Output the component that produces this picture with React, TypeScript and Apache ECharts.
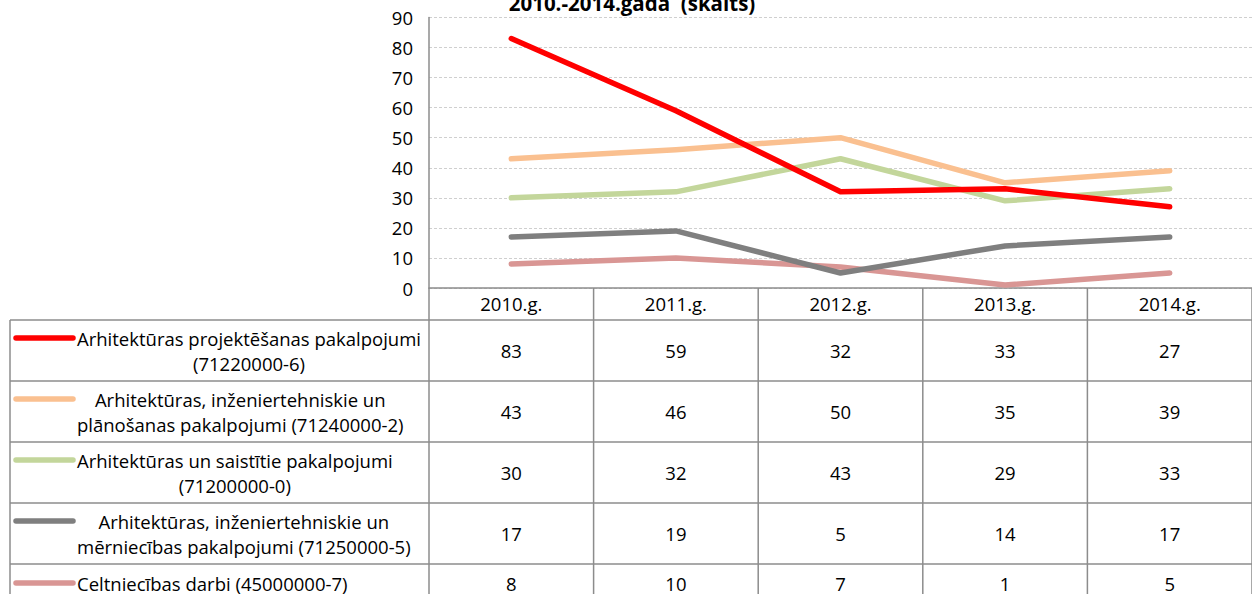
import React, { useEffect, useRef } from 'react';
import * as echarts from 'echarts';

// Categories (years) and series
const years = ['2010.g.', '2011.g.', '2012.g.', '2013.g.', '2014.g.'];
const seriesNames = [
  'Arhitektūras projektēšanas pakalpojumi\n(71220000-6)',
  'Arhitektūras, inženiertehniskie un\nplānošanas pakalpojumi (71240000-2)',
  'Arhitektūras un saistītie pakalpojumi\n(71200000-0)',
  'Arhitektūras, inženiertehniskie un\nmērniecības pakalpojumi (71250000-5)',
  'Celtniecības darbi (45000000-7)',
];
const projektesana = [83, 59, 32, 33, 27];
const planosana = [43, 46, 50, 35, 39];
const saistitie = [30, 32, 43, 29, 33];
const merniecibas = [17, 19, 5, 14, 17];
const celtniecibas = [8, 10, 7, 1, 5];
const seriesValues = [projektesana, planosana, saistitie, merniecibas, celtniecibas];
const seriesColors = ['#FF0000', '#FAC090', '#C3D69B', '#7F7F7F', '#D99694'];
const titleText = '2010.-2014.gada  (skaits)';

const FONT = '"Open Sans", Lato, sans-serif';
const FONT_SIZE = 18.5;
const LINE_H = 25;
const TABLE_COLOR = '#8c8c8c';

// data-table geometry (below the plot)
const TABLE_LEFT = 10;
const HEADER_BOTTOM = 320;
const ROW_HEIGHTS = [61, 61, 61, 61, 38];
const KEY_X1 = 16;
const KEY_X2 = 73;
const LABEL_X = 77;

function measure(text: string, font: string): number {
  const c = document.createElement('canvas').getContext('2d');
  if (!c) return text.length * 9;
  c.font = font;
  return c.measureText(text).width;
}

export default function App() {
  const ref = useRef<HTMLDivElement>(null);

  useEffect(() => {
    if (!ref.current) return;
    const chart = echarts.init(ref.current, undefined, { renderer: 'svg' });

    chart.setOption({
      animation: false,
      textStyle: { fontFamily: FONT },
      grid: { left: 429, right: -13, top: 17.5, bottom: 306, containLabel: false },
      xAxis: {
        type: 'category',
        data: years,
        boundaryGap: true,
        axisLine: { lineStyle: { color: TABLE_COLOR, width: 1.5 } },
        axisTick: { show: false },
        axisLabel: { color: '#000', fontSize: FONT_SIZE, fontFamily: FONT, margin: 6 },
      },
      yAxis: {
        type: 'value',
        min: 0,
        max: 90,
        interval: 10,
        axisLine: { show: true, lineStyle: { color: TABLE_COLOR, width: 1.5 } },
        axisTick: { show: false },
        axisLabel: { color: '#000', fontSize: FONT_SIZE, fontFamily: FONT, margin: 16 },
        splitLine: { lineStyle: { color: '#cfcfcf', type: [3, 2], width: 1 } },
      },
      series: seriesValues.map((vals, i) => ({
        type: 'line',
        name: seriesNames[i],
        data: vals,
        symbol: 'none',
        lineStyle: { color: seriesColors[i], width: 5.5, cap: 'round', join: 'round' },
        z: 10 - i,
      })),
    });

    // Build the data table underneath using the category axis positions
    const xs = years.map((_, i) => chart.convertToPixel({ xAxisIndex: 0 }, i) as number);
    const band = xs[1] - xs[0];
    const axisY = chart.convertToPixel({ yAxisIndex: 0 }, 0) as number;
    const gridLeft = xs[0] - band / 2;
    const right = xs[xs.length - 1] + band / 2;
    const bottom = 640;

    const lineStyle = { stroke: TABLE_COLOR, lineWidth: 1.5 };
    const els: any[] = [];

    // horizontal rules
    let y = HEADER_BOTTOM;
    const rowTops: number[] = [];
    ROW_HEIGHTS.forEach((h) => {
      rowTops.push(y);
      els.push({ type: 'line', shape: { x1: TABLE_LEFT, y1: y, x2: right, y2: y }, style: lineStyle, silent: true });
      y += h;
    });
    // vertical rules
    els.push({ type: 'line', shape: { x1: TABLE_LEFT, y1: HEADER_BOTTOM, x2: TABLE_LEFT, y2: bottom }, style: lineStyle });
    for (let j = 0; j <= years.length; j++) {
      const x = gridLeft + j * band;
      els.push({ type: 'line', shape: { x1: x, y1: axisY, x2: x, y2: bottom }, style: lineStyle });
    }

    // rows: legend key, series name and values
    const font = `${FONT_SIZE}px "Open Sans"`;
    seriesNames.forEach((name, i) => {
      const top = rowTops[i];
      const cy = top + ROW_HEIGHTS[i] / 2;
      const lines = name.split('\n');
      const firstY = cy - ((lines.length - 1) * LINE_H) / 2;
      els.push({
        type: 'line',
        shape: { x1: KEY_X1, y1: firstY, x2: KEY_X2, y2: firstY },
        style: { stroke: seriesColors[i], lineWidth: 5.5, lineCap: 'round' },
        z: 5,
      });
      const blockW = Math.max(...lines.map((l) => measure(l, font)));
      els.push({
        type: 'text',
        x: LABEL_X + blockW / 2,
        y: cy,
        style: {
          text: name,
          fill: '#000',
          fontFamily: FONT,
          fontSize: FONT_SIZE,
          align: 'center',
          verticalAlign: 'middle',
          lineHeight: LINE_H,
        },
      });
      seriesValues[i].forEach((v, j) => {
        els.push({
          type: 'text',
          x: xs[j],
          y: cy,
          style: {
            text: String(v),
            fill: '#000',
            fontFamily: FONT,
            fontSize: FONT_SIZE,
            align: 'center',
            verticalAlign: 'middle',
          },
        });
      });
    });

    // chart title (upper part lies above the visible area)
    els.push({
      type: 'text',
      x: 632,
      y: 13,
      style: {
        text: titleText,
        fill: '#000',
        fontFamily: FONT,
        fontSize: 20.5,
        fontWeight: 'bold',
        align: 'center',
        verticalAlign: 'bottom',
      },
    });

    chart.setOption({ graphic: { elements: els } });

    return () => chart.dispose();
  }, []);

  return (
    <div
      ref={ref}
      style={{ position: 'absolute', left: 0, top: 0, width: 1252, height: 594, overflow: 'hidden', background: '#fff' }}
    />
  );
}
